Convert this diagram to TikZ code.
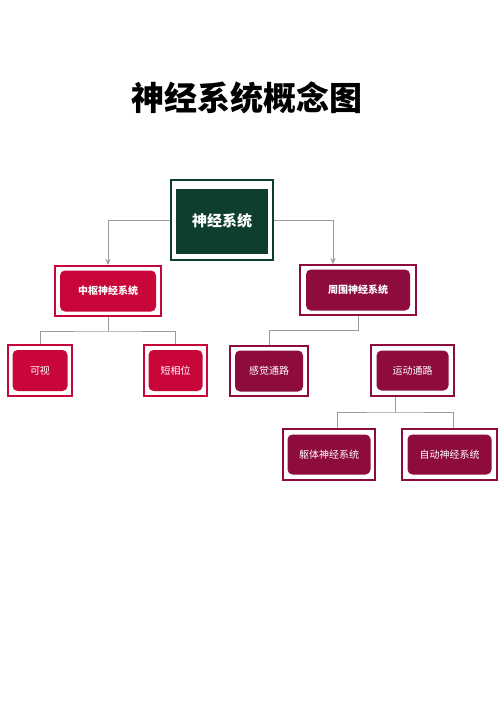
\documentclass[tikz,border=0pt]{standalone}
\usepackage{fontspec}
\setmainfont{Noto Sans CJK SC}
\usetikzlibrary{arrows.meta}

\definecolor{rootgreen}{HTML}{0D3E2E}
\definecolor{cnsred}{HTML}{C8063A}
\definecolor{pnsred}{HTML}{8E0B3D}
\definecolor{linkgray}{HTML}{9B9B9B}

\tikzset{
  frame/.style={draw=#1, line width=1pt, fill=white, inner sep=0pt},
  core/.style={fill=#1, text=white, inner sep=0pt, rounded corners=2.5pt},
  link/.style={draw=linkgray, line width=0.5pt},
  tip/.style={-{Stealth[length=3pt, width=2.6pt]}},
  midtext/.style={font=\bfseries\fontsize{5}{6}\selectfont},
  leaftext/.style={font=\fontsize{5}{6}\selectfont},
}

\begin{document}
\begin{tikzpicture}[x=0.5pt, y=-0.5pt]

	% Lienzo
	\fill[white] (0,0) rectangle (500,707);
	\useasboundingbox (0,0) rectangle (500,707);

	% Titulo
	\node[font=\bfseries\fontsize{16.5}{20}\selectfont] (title) at (247,98) {神经系统概念图};

	% Nodo raiz
	\node[frame=rootgreen, minimum width=51pt, minimum height=40pt] (root) at (222,220) {};
	\node[fill=rootgreen, text=white, inner sep=0pt, minimum width=46pt, minimum height=32.5pt,
	      font=\bfseries\fontsize{7.5}{9}\selectfont] (root-in) at (222,221) {神经系统};

	% Nodos del segundo nivel
	\node[frame=cnsred, minimum width=53pt, minimum height=25pt] (zs) at (108,291) {};
	\node[core=cnsred, midtext, minimum width=48pt, minimum height=20.5pt] (zs-in) at (zs) {中枢神经系统};
	\node[frame=pnsred, minimum width=58pt, minimum height=25pt] (zw) at (358,290) {};
	\node[core=pnsred, midtext, minimum width=52pt, minimum height=20.5pt] (zw-in) at (zw) {周围神经系统};

	% Nodos del tercer nivel
	\node[frame=cnsred, minimum width=32pt, minimum height=25.5pt] (kv) at (40,370.5) {};
	\node[core=cnsred, leaftext, minimum width=27.5pt, minimum height=20.5pt] (kv-in) at (kv) {可视};
	\node[frame=cnsred, minimum width=31.5pt, minimum height=25.5pt] (dx) at (175.5,370.5) {};
	\node[core=cnsred, leaftext, minimum width=27pt, minimum height=20.5pt] (dx-in) at (dx) {短相位};
	\node[frame=pnsred, minimum width=39pt, minimum height=25pt] (gj) at (269,371) {};
	\node[core=pnsred, leaftext, minimum width=34pt, minimum height=20.5pt] (gj-in) at (gj) {感觉通路};
	\node[frame=pnsred, minimum width=41.5pt, minimum height=25.5pt] (yd) at (412.5,370.5) {};
	\node[core=pnsred, leaftext, minimum width=36pt, minimum height=20pt] (yd-in) at (yd) {运动通路};

	% Nodos del cuarto nivel
	\node[frame=pnsred, minimum width=46pt, minimum height=25.5pt] (qt) at (329,454.5) {};
	\node[core=pnsred, leaftext, minimum width=41.5pt, minimum height=20pt] (qt-in) at (qt) {躯体神经系统};
	\node[frame=pnsred, minimum width=47.5pt, minimum height=25.5pt] (zd) at (449.5,454.5) {};
	\node[core=pnsred, leaftext, minimum width=42pt, minimum height=20pt] (zd-in) at (zd) {自动神经系统};

	% Flechas desde la raiz
	\draw[link, tip] (root.west) -| (zs.north);
	\draw[link, tip] (root.east) -| ([xshift=-12.5pt]zw.north);

	% Lineas del sistema central
	\draw[link] (zs.south) -- ++(0,14) coordinate (zs-b);
	\draw[link] (kv.north) |- (zs-b) -| (dx.north);

	% Lineas del sistema periferico
	\draw[link] (zw.south) -- ++(0,14) -| (gj.north);
	\draw[link] ([xshift=-8.75pt]yd.south) -- ++(0,15) coordinate (yd-b);
	\draw[link] ([xshift=4pt]qt.north) |- (yd-b) -| ([xshift=1.75pt]zd.north);

\end{tikzpicture}
\end{document}
